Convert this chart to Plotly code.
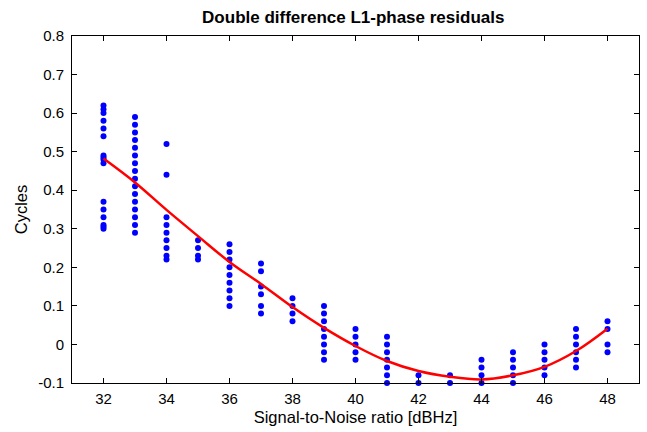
import plotly.graph_objects as go

# ---- data ----
snr_levels = [32, 33, 34, 35, 36, 37, 38, 39, 40, 41, 42, 43, 44, 45, 46, 47, 48]
res_32 = [0.62, 0.61, 0.60, 0.58, 0.56, 0.54, 0.49, 0.485, 0.48, 0.47, 0.37, 0.35, 0.33, 0.31, 0.305, 0.30]
res_33 = [0.59, 0.57, 0.55, 0.53, 0.51, 0.49, 0.47, 0.45, 0.43, 0.41, 0.39, 0.37, 0.35, 0.33, 0.31, 0.29]
res_34 = [0.52, 0.44, 0.33, 0.31, 0.29, 0.27, 0.25, 0.23, 0.22]
res_35 = [0.27, 0.25, 0.23, 0.22]
res_36 = [0.26, 0.24, 0.22, 0.20, 0.18, 0.16, 0.14, 0.12, 0.10]
res_37 = [0.21, 0.19, 0.15, 0.13, 0.10, 0.08]
res_38 = [0.12, 0.10, 0.08, 0.06]
res_39 = [0.10, 0.08, 0.06, 0.04, 0.02, 0.0, -0.02, -0.04]
res_40 = [0.04, 0.02, 0.0, -0.02, -0.04]
res_41 = [0.02, 0.0, -0.02, -0.04, -0.06, -0.08, -0.10]
res_42 = [-0.08, -0.10]
res_43 = [-0.08, -0.10]
res_44 = [-0.04, -0.06, -0.08, -0.10]
res_45 = [-0.02, -0.04, -0.06, -0.08, -0.10]
res_46 = [0.0, -0.02, -0.04, -0.06, -0.08]
res_47 = [0.04, 0.02, 0.0, -0.02, -0.04, -0.06]
res_48 = [0.06, 0.04, 0.0, -0.02]
residuals = [res_32, res_33, res_34, res_35, res_36, res_37, res_38, res_39, res_40,
             res_41, res_42, res_43, res_44, res_45, res_46, res_47, res_48]

fit_snr = [32, 33, 34, 35, 36, 37, 38, 39, 40, 41, 42, 43, 44, 45, 46, 47, 48]
fit_cycles = [0.482, 0.420, 0.349, 0.281, 0.214, 0.157, 0.097, 0.043, -0.004, -0.043,
              -0.069, -0.084, -0.091, -0.080, -0.058, -0.017, 0.041]

x_ticks = [32, 34, 36, 38, 40, 42, 44, 46, 48]
y_ticks = [-0.1, 0, 0.1, 0.2, 0.3, 0.4, 0.5, 0.6, 0.7, 0.8]
y_tick_labels = ["-0.1", "0", "0.1", "0.2", "0.3", "0.4", "0.5", "0.6", "0.7", "0.8"]

pts_x, pts_y = [], []
for s, vals in zip(snr_levels, residuals):
    for v in vals:
        pts_x.append(s)
        pts_y.append(v)

fig = go.Figure()
fig.add_trace(go.Scatter(x=pts_x, y=pts_y, mode="markers",
                         marker=dict(color="#0000ff", size=6, line=dict(width=0)),
                         cliponaxis=False, showlegend=False))
fig.add_trace(go.Scatter(x=fit_snr, y=fit_cycles, mode="lines",
                         line=dict(color="#ff0000", width=2.5, shape="spline"),
                         showlegend=False))

font = dict(family="Liberation Sans, Arial, sans-serif", size=15, color="black")
fig.update_layout(
    width=647, height=432,
    margin=dict(l=72, r=8, t=36, b=49),
    paper_bgcolor="white", plot_bgcolor="white",
    font=font,
    title=dict(text="<b>Double difference L1-phase residuals</b>", x=0.546, xanchor="center",
               y=1 - 17 / 432, yanchor="middle", font=dict(size=17)),
    xaxis=dict(range=[31, 49], tickvals=x_ticks, ticks="inside", ticklen=5, tickcolor="black",
               showline=True, linecolor="black", linewidth=1, mirror="ticks",
               showgrid=False, zeroline=False, ticklabelstandoff=2,
               title=dict(text="Signal-to-Noise ratio [dBHz]", standoff=5, font=dict(size=16.5))),
    yaxis=dict(range=[-0.1, 0.8], tickvals=y_ticks, ticktext=y_tick_labels, ticks="inside",
               ticklen=5, tickcolor="black",
               showline=True, linecolor="black", linewidth=1, mirror="ticks",
               showgrid=False, zeroline=False, ticklabelstandoff=4,
               title=dict(text="Cycles", standoff=6, font=dict(size=16.5))),
)
fig.write_html("out.html")
